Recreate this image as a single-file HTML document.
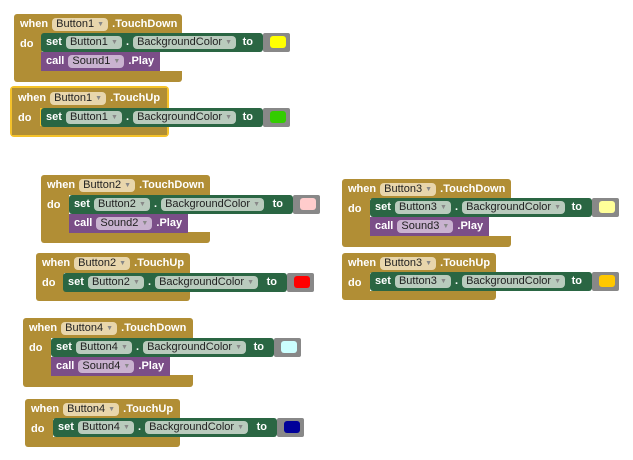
<!DOCTYPE html><html><head><style>
body{margin:0;width:633px;height:460px;background:#fff;position:relative;overflow:hidden;font-family:"Liberation Sans",sans-serif;font-size:11px;font-weight:bold;color:#fff}
.ev{position:absolute}
.r{position:absolute;background:#b18e35}
.t{position:absolute;white-space:nowrap;line-height:14px}
.f,.g,.p{display:inline-block;font-size:11px;font-weight:normal;border-radius:4px;padding:0 4px;line-height:13px;margin:0 1px;color:#222}
.f{background:#e8d6ac}
.g{background:#b9cbbd}
.p{background:#c9b2d0}
.ar{font-size:7px;color:#888;vertical-align:1px}
.set{position:absolute;height:19px;width:222px;background:#2a6643;border-radius:3px;box-sizing:border-box;padding:3px 0 0 5px;white-space:nowrap;line-height:13px}
.call{position:absolute;height:19px;width:119px;background:#7b4e88;box-sizing:border-box;padding:3px 0 0 5px;white-space:nowrap;line-height:13px}
.gr{position:absolute;height:19px;width:27px;background:#888;border-radius:2px}
.gr i{position:absolute;left:7px;top:3px;width:16px;height:12px;border-radius:3px}
.to{position:absolute;right:10px;top:3px}
</style></head><body>

<!-- B1 TD -->
<div class="ev" style="left:14px;top:14px">
<div class="r" style="left:0;top:0;width:168px;height:20px;border-radius:3px 3px 0 0"></div>
<div class="r" style="left:0;top:20px;width:28px;height:38px"></div>
<div class="r" style="left:0;top:57px;width:168px;height:11px;border-radius:0 0 3px 3px"></div>
<div class="t" style="left:6px;top:3px">when <span class="f">Button1 <span class="ar">▼</span></span> .TouchDown</div>
<div class="t" style="left:6px;top:23px">do</div>
<div class="set" style="left:27px;top:19px">set <span class="g">Button1 <span class="ar">▼</span></span> . <span class="g">BackgroundColor <span class="ar">▼</span></span><span class="to">to</span></div>
<div class="gr" style="left:249px;top:19px"><i style="background:#ffff00"></i></div>
<div class="call" style="left:27px;top:38px">call <span class="p">Sound1 <span class="ar">▼</span></span> .Play</div>
</div>

<!-- B1 TU -->
<div class="ev" style="left:12px;top:88px">
<div class="r" style="left:-2px;top:-2px;width:159px;height:51px;background:#f5c22a;border-radius:4px"></div>
<div class="r" style="left:0;top:0;width:155px;height:20px"></div>
<div class="r" style="left:0;top:20px;width:28px;height:20px"></div>
<div class="r" style="left:0;top:38px;width:155px;height:9px"></div>
<div class="t" style="left:6px;top:3px">when <span class="f">Button1 <span class="ar">▼</span></span> .TouchUp</div>
<div class="t" style="left:6px;top:23px">do</div>
<div class="set" style="left:29px;top:20px">set <span class="g">Button1 <span class="ar">▼</span></span> . <span class="g">BackgroundColor <span class="ar">▼</span></span><span class="to">to</span></div>
<div class="gr" style="left:251px;top:20px"><i style="background:#33cc00"></i></div>
</div>

<!-- B2 TD -->
<div class="ev" style="left:41px;top:175px">
<div class="r" style="left:0;top:0;width:169px;height:20px;border-radius:3px 3px 0 0"></div>
<div class="r" style="left:0;top:20px;width:28px;height:38px"></div>
<div class="r" style="left:0;top:57px;width:169px;height:11px;border-radius:0 0 3px 3px"></div>
<div class="t" style="left:6px;top:3px">when <span class="f">Button2 <span class="ar">▼</span></span> .TouchDown</div>
<div class="t" style="left:6px;top:23px">do</div>
<div class="set" style="left:28px;top:20px;width:224px">set <span class="g">Button2 <span class="ar">▼</span></span> . <span class="g">BackgroundColor <span class="ar">▼</span></span><span class="to">to</span></div>
<div class="gr" style="left:252px;top:20px"><i style="background:#ffcccc"></i></div>
<div class="call" style="left:28px;top:39px">call <span class="p">Sound2 <span class="ar">▼</span></span> .Play</div>
</div>

<!-- B2 TU -->
<div class="ev" style="left:36px;top:253px">
<div class="r" style="left:0;top:0;width:154px;height:20px;border-radius:3px 3px 0 0"></div>
<div class="r" style="left:0;top:20px;width:28px;height:20px"></div>
<div class="r" style="left:0;top:38px;width:154px;height:10px;border-radius:0 0 3px 3px"></div>
<div class="t" style="left:6px;top:3px">when <span class="f">Button2 <span class="ar">▼</span></span> .TouchUp</div>
<div class="t" style="left:6px;top:23px">do</div>
<div class="set" style="left:27px;top:20px;width:224px">set <span class="g">Button2 <span class="ar">▼</span></span> . <span class="g">BackgroundColor <span class="ar">▼</span></span><span class="to">to</span></div>
<div class="gr" style="left:251px;top:20px"><i style="background:#ff0000"></i></div>
</div>

<!-- B3 TD -->
<div class="ev" style="left:342px;top:179px">
<div class="r" style="left:0;top:0;width:169px;height:20px;border-radius:3px 3px 0 0"></div>
<div class="r" style="left:0;top:20px;width:28px;height:38px"></div>
<div class="r" style="left:0;top:57px;width:169px;height:11px;border-radius:0 0 3px 3px"></div>
<div class="t" style="left:6px;top:3px">when <span class="f">Button3 <span class="ar">▼</span></span> .TouchDown</div>
<div class="t" style="left:6px;top:23px">do</div>
<div class="set" style="left:28px;top:19px;width:222px">set <span class="g">Button3 <span class="ar">▼</span></span> . <span class="g">BackgroundColor <span class="ar">▼</span></span><span class="to">to</span></div>
<div class="gr" style="left:250px;top:19px"><i style="background:#ffff99"></i></div>
<div class="call" style="left:28px;top:38px">call <span class="p">Sound3 <span class="ar">▼</span></span> .Play</div>
</div>

<!-- B3 TU -->
<div class="ev" style="left:342px;top:253px">
<div class="r" style="left:0;top:0;width:154px;height:20px;border-radius:3px 3px 0 0"></div>
<div class="r" style="left:0;top:20px;width:28px;height:20px"></div>
<div class="r" style="left:0;top:38px;width:154px;height:9px;border-radius:0 0 3px 3px"></div>
<div class="t" style="left:6px;top:3px">when <span class="f">Button3 <span class="ar">▼</span></span> .TouchUp</div>
<div class="t" style="left:6px;top:23px">do</div>
<div class="set" style="left:28px;top:19px;width:222px">set <span class="g">Button3 <span class="ar">▼</span></span> . <span class="g">BackgroundColor <span class="ar">▼</span></span><span class="to">to</span></div>
<div class="gr" style="left:250px;top:19px"><i style="background:#ffc800"></i></div>
</div>

<!-- B4 TD -->
<div class="ev" style="left:23px;top:318px">
<div class="r" style="left:0;top:0;width:170px;height:20px;border-radius:3px 3px 0 0"></div>
<div class="r" style="left:0;top:20px;width:28px;height:38px"></div>
<div class="r" style="left:0;top:57px;width:170px;height:12px;border-radius:0 0 3px 3px"></div>
<div class="t" style="left:6px;top:3px">when <span class="f">Button4 <span class="ar">▼</span></span> .TouchDown</div>
<div class="t" style="left:6px;top:23px">do</div>
<div class="set" style="left:28px;top:20px;width:223px">set <span class="g">Button4 <span class="ar">▼</span></span> . <span class="g">BackgroundColor <span class="ar">▼</span></span><span class="to">to</span></div>
<div class="gr" style="left:251px;top:20px"><i style="background:#ccffff"></i></div>
<div class="call" style="left:28px;top:39px">call <span class="p">Sound4 <span class="ar">▼</span></span> .Play</div>
</div>

<!-- B4 TU -->
<div class="ev" style="left:25px;top:399px">
<div class="r" style="left:0;top:0;width:155px;height:20px;border-radius:3px 3px 0 0"></div>
<div class="r" style="left:0;top:20px;width:28px;height:20px"></div>
<div class="r" style="left:0;top:38px;width:155px;height:10px;border-radius:0 0 3px 3px"></div>
<div class="t" style="left:6px;top:3px">when <span class="f">Button4 <span class="ar">▼</span></span> .TouchUp</div>
<div class="t" style="left:6px;top:23px">do</div>
<div class="set" style="left:28px;top:19px;width:224px">set <span class="g">Button4 <span class="ar">▼</span></span> . <span class="g">BackgroundColor <span class="ar">▼</span></span><span class="to">to</span></div>
<div class="gr" style="left:252px;top:19px"><i style="background:#000099"></i></div>
</div>

</body></html>
